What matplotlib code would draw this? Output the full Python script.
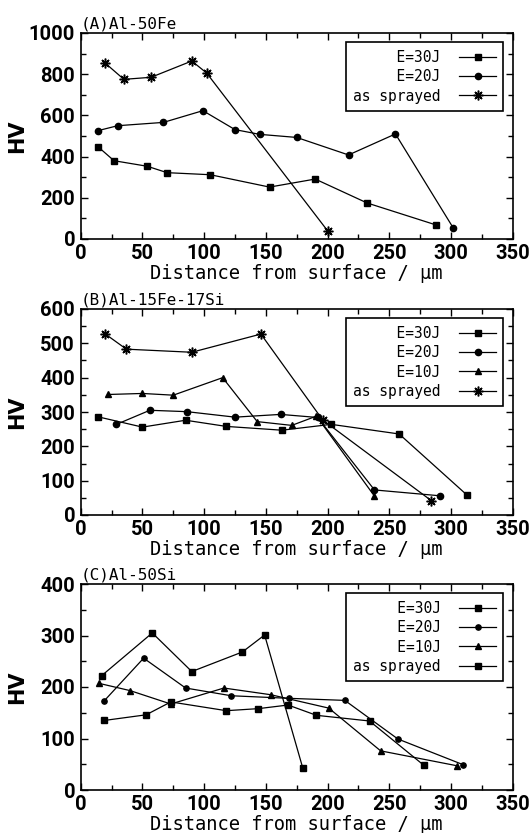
import matplotlib
matplotlib.use("Agg")
import matplotlib.pyplot as plt
from matplotlib.ticker import MultipleLocator

# fonts: no narrow face installed, Roboto bold is the slimmest bold digit
tick_font = ["Roboto", "DejaVu Sans"]
mono = ["DejaVu Sans Mono", "DejaVu Sans"]

# ---- (A) Al-50Fe ----
a_e30_x = [14, 27, 54, 70, 105, 153, 190, 232, 288]
a_e30_y = [448, 380, 353, 322, 312, 252, 291, 175, 68]
a_e20_x = [14, 30, 67, 99, 125, 145, 175, 217, 255, 302]
a_e20_y = [526, 550, 566, 623, 531, 508, 493, 408, 510, 52]
a_as_x = [20, 35, 57, 90, 102, 200]
a_as_y = [853, 775, 785, 864, 806, 40]

# ---- (B) Al-15Fe-17Si ----
b_e30_x = [14, 50, 85, 118, 163, 203, 258, 313]
b_e30_y = [286, 256, 276, 258, 247, 264, 236, 58]
b_e20_x = [29, 56, 86, 125, 162, 192, 238, 291]
b_e20_y = [264, 305, 301, 285, 293, 284, 73, 56]
b_e10_x = [22, 50, 75, 115, 143, 171, 191, 238]
b_e10_y = [351, 354, 349, 400, 272, 261, 288, 55]
b_as_x = [20, 37, 90, 146, 196, 284]
b_as_y = [527, 483, 474, 527, 277, 42]

# ---- (C) Al-50Si ----
c_e30_x = [19, 53, 73, 118, 144, 168, 191, 234, 278]
c_e30_y = [135, 146, 171, 154, 158, 165, 145, 134, 48]
c_e20_x = [19, 51, 85, 122, 169, 214, 257, 310]
c_e20_y = [173, 256, 198, 183, 178, 174, 99, 49]
c_e10_x = [15, 40, 73, 116, 154, 201, 243, 305]
c_e10_y = [207, 193, 167, 198, 185, 159, 76, 47]
c_as_x = [17, 58, 90, 131, 149, 180]
c_as_y = [222, 305, 230, 268, 301, 42]

titles = ["(A)Al-50Fe", "(B)Al-15Fe-17Si", "(C)Al-50Si"]
ymax = [1000, 600, 400]
ymajor = [200, 100, 100]

star = (8, 2, 0)

fig = plt.figure(figsize=(5.32, 8.33), dpi=100)
left, width = 80.7 / 532, 432 / 532
tops = [33, 309, 584]
axes = []
for t in tops:
    ax = fig.add_axes([left, 1 - (t + 206) / 833, width, 206 / 833])
    axes.append(ax)

line_kw = dict(color="black", linewidth=0.9)

ax = axes[0]
ax.plot(a_e30_x, a_e30_y, marker="s", markersize=4.5, label="  E=30J", **line_kw)
ax.plot(a_e20_x, a_e20_y, marker="o", markersize=4.5, label="  E=20J", **line_kw)
ax.plot(a_as_x, a_as_y, marker=star, markersize=7, markeredgewidth=1.1, label="as sprayed", **line_kw)

ax = axes[1]
ax.plot(b_e30_x, b_e30_y, marker="s", markersize=4.5, label="  E=30J", **line_kw)
ax.plot(b_e20_x, b_e20_y, marker="o", markersize=4.5, label="  E=20J", **line_kw)
ax.plot(b_e10_x, b_e10_y, marker="^", markersize=5, label="  E=10J", **line_kw)
ax.plot(b_as_x, b_as_y, marker=star, markersize=7, markeredgewidth=1.1, label="as sprayed", **line_kw)

ax = axes[2]
ax.plot(c_e30_x, c_e30_y, marker="s", markersize=3.8, label="   E=30J", **line_kw)
ax.plot(c_e20_x, c_e20_y, marker="o", markersize=3.8, label="   E=20J", **line_kw)
ax.plot(c_e10_x, c_e10_y, marker="^", markersize=4.5, label="   E=10J", **line_kw)
ax.plot(c_as_x, c_as_y, marker="s", markersize=3.8, label="as sprayed", **line_kw)

for i, ax in enumerate(axes):
    ax.set_xlim(0, 350)
    ax.set_ylim(0, ymax[i])
    ax.xaxis.set_major_locator(MultipleLocator(50))
    ax.xaxis.set_minor_locator(MultipleLocator(25))
    ax.yaxis.set_major_locator(MultipleLocator(ymajor[i]))
    ax.yaxis.set_minor_locator(MultipleLocator(ymajor[i] / 2))
    ax.tick_params(which="both", direction="in", top=True, right=True, width=1)
    ax.tick_params(which="major", length=5)
    ax.tick_params(axis="x", which="major", pad=3.5)
    ax.tick_params(axis="y", which="major", pad=4)
    ax.tick_params(which="minor", length=3.5)
    for lab in ax.get_xticklabels() + ax.get_yticklabels():
        lab.set_family(tick_font)
        lab.set_fontweight("bold")
        lab.set_fontsize(14.5)
    for s in ax.spines.values():
        s.set_linewidth(1.2)
    ax.set_xlabel("Distance from surface / \u03bcm", family=mono, fontsize=13.5, labelpad=0.5)
    ax.set_ylabel("HV", fontsize=15, fontweight="bold")
    ax.yaxis.set_label_coords(-0.125, 0.5)
    ax.text(0.0, 1.005, titles[i], transform=ax.transAxes, family=mono,
            fontsize=11.5, ha="left", va="bottom")
    leg = ax.legend(loc="upper right", markerfirst=False, frameon=True, fancybox=False,
                    edgecolor="black", framealpha=1, borderaxespad=0.65,
                    handlelength=2.5, handletextpad=1.3, labelspacing=0.3,
                    borderpad=0.5, prop={"family": mono, "size": 10.5})
    leg.get_frame().set_linewidth(1.2)

fig.savefig("out.png", dpi=100)
